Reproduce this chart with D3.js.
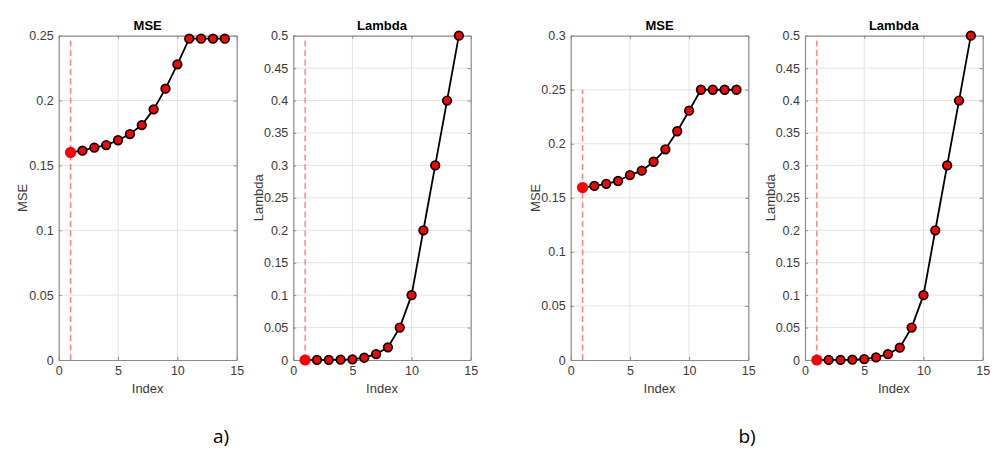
<!DOCTYPE html>
<html>
<head>
<meta charset="utf-8">
<script src="https://cdn.jsdelivr.net/npm/d3@7"></script>
<style>
  body { margin: 0; background: #fff; }
  svg text { font-family: "Liberation Sans", Arial, sans-serif; }
</style>
</head>
<body>
<div id="chart"></div>
<script>
// index values shared by all panels
const indexValues = [1, 2, 3, 4, 5, 6, 7, 8, 9, 10, 11, 12, 13, 14];

// panel a) values
const mseA = [0.160, 0.1614, 0.1637, 0.1657, 0.1694, 0.1742, 0.1811, 0.1932, 0.2092, 0.2279, 0.2477, 0.2477, 0.2477, 0.2477];
const lambdaA = [0, 0.0001, 0.0002, 0.0005, 0.001, 0.0035, 0.009, 0.0195, 0.05, 0.1, 0.2, 0.3, 0.4, 0.5];

// panel b) values
const mseB = [0.1595, 0.161, 0.163, 0.1656, 0.1711, 0.1751, 0.1834, 0.1949, 0.2116, 0.2306, 0.25, 0.25, 0.25, 0.25];
const lambdaB = [0, 0.0001, 0.0002, 0.0005, 0.0015, 0.004, 0.009, 0.019, 0.05, 0.1, 0.2, 0.3, 0.4, 0.5];

// tick values
const xTicks = [0, 5, 10, 15];
const mseTicksA = [0, 0.05, 0.1, 0.15, 0.2, 0.25];
const mseTicksB = [0, 0.05, 0.1, 0.15, 0.2, 0.25, 0.3];
const lambdaTicks = [0, 0.05, 0.1, 0.15, 0.2, 0.25, 0.3, 0.35, 0.4, 0.45, 0.5];

const W = 1002, H = 465;
const plotTop = 35.7, plotBottom = 360;

const svg = d3.select("#chart").append("svg").attr("width", W).attr("height", H);

// draws one MATLAB style axes
function drawPanel(opts) {
  const { left, right, yMax, yTicks, values, title, yLabel, labelX, dashTop } = opts;

  const x = d3.scaleLinear().domain([0, 15]).range([left, right]);
  const y = d3.scaleLinear().domain([0, yMax]).range([plotBottom, plotTop]);
  const g = svg.append("g");

  // grid
  g.append("g").selectAll("line").data(xTicks.slice(1, -1)).join("line")
    .attr("x1", d => x(d)).attr("x2", d => x(d))
    .attr("y1", plotTop).attr("y2", plotBottom)
    .attr("stroke", "#e3e3e3").attr("stroke-width", 1);
  g.append("g").selectAll("line").data(yTicks.slice(1, -1)).join("line")
    .attr("x1", left).attr("x2", right)
    .attr("y1", d => y(d)).attr("y2", d => y(d))
    .attr("stroke", "#e3e3e3").attr("stroke-width", 1);

  // axes with inward ticks on all four sides
  const tickCol = "#8a8a8a";
  const ax = g.append("g").attr("transform", `translate(0,${plotBottom})`)
    .call(d3.axisBottom(x).tickValues(xTicks).tickSizeInner(-3).tickSizeOuter(0).tickPadding(6));
  const axTop = g.append("g").attr("transform", `translate(0,${plotTop})`)
    .call(d3.axisTop(x).tickValues(xTicks).tickSizeInner(-3).tickSizeOuter(0).tickFormat(""));
  const ay = g.append("g").attr("transform", `translate(${left},0)`)
    .call(d3.axisLeft(y).tickValues(yTicks).tickSizeInner(-3).tickSizeOuter(0).tickPadding(5).tickFormat(d3.format("")));
  const ayR = g.append("g").attr("transform", `translate(${right},0)`)
    .call(d3.axisRight(y).tickValues(yTicks).tickSizeInner(-3).tickSizeOuter(0).tickFormat(""));
  [ax, axTop, ay, ayR].forEach(a => {
    a.select(".domain").attr("stroke", tickCol).attr("stroke-width", 1.2);
    a.selectAll(".tick line").attr("stroke", tickCol);
    a.selectAll(".tick text").attr("fill", "#3a3a3a").style("font-size", "12.5px");
  });

  // dashed marker at selected index
  g.append("line")
    .attr("x1", x(1)).attr("x2", x(1))
    .attr("y1", y(0)).attr("y2", y(dashTop))
    .attr("stroke", "#ff7f7f").attr("stroke-width", 1.4)
    .attr("stroke-dasharray", "6,3.5");

  const pts = indexValues.map((d, i) => [d, values[i]]);

  g.append("path")
    .datum(pts)
    .attr("d", d3.line().x(d => x(d[0])).y(d => y(d[1])))
    .attr("fill", "none").attr("stroke", "#000").attr("stroke-width", 1.8);

  g.append("g").selectAll("circle").data(pts.slice(1)).join("circle")
    .attr("cx", d => x(d[0])).attr("cy", d => y(d[1]))
    .attr("r", 4.3)
    .attr("fill", "#ff0000").attr("stroke", "#000").attr("stroke-width", 1.7);

  g.append("circle")
    .attr("cx", x(pts[0][0])).attr("cy", y(pts[0][1]))
    .attr("r", 5.6).attr("fill", "#ff0000");

  // labels
  g.append("text")
    .attr("x", (left + right) / 2).attr("y", 30)
    .attr("text-anchor", "middle").attr("font-weight", "bold")
    .style("font-size", "13px").attr("fill", "#000")
    .text(title);
  g.append("text")
    .attr("x", (left + right) / 2).attr("y", 393)
    .attr("text-anchor", "middle")
    .style("font-size", "13px").attr("fill", "#3a3a3a")
    .text("Index");
  g.append("text")
    .attr("transform", `translate(${labelX},${(plotTop + plotBottom) / 2}) rotate(-90)`)
    .attr("text-anchor", "middle").attr("dy", "0.35em")
    .style("font-size", "13px").attr("fill", "#3a3a3a")
    .text(yLabel);
}

drawPanel({ left: 58.7, right: 236.7, yMax: 0.25, yTicks: mseTicksA, values: mseA,
  title: "MSE", yLabel: "MSE", labelX: 22.7, dashTop: d3.max(mseA) });
drawPanel({ left: 293.3, right: 470.7, yMax: 0.5, yTicks: lambdaTicks, values: lambdaA,
  title: "Lambda", yLabel: "Lambda", labelX: 258.3, dashTop: 0.5 });
drawPanel({ left: 570.7, right: 748.3, yMax: 0.3, yTicks: mseTicksB, values: mseB,
  title: "MSE", yLabel: "MSE", labelX: 535, dashTop: d3.max(mseB) });
drawPanel({ left: 805, right: 982.7, yMax: 0.5, yTicks: lambdaTicks, values: lambdaB,
  title: "Lambda", yLabel: "Lambda", labelX: 770, dashTop: 0.5 });

// panel captions
svg.append("text").attr("x", 221).attr("y", 443).attr("text-anchor", "middle")
  .style("font-size", "19px").style("font-family", "'Open Sans', sans-serif").attr("fill", "#000").text("a)");
svg.append("text").attr("x", 747).attr("y", 443).attr("text-anchor", "middle")
  .style("font-size", "19px").style("font-family", "'Open Sans', sans-serif").attr("fill", "#000").text("b)");
</script>
</body>
</html>
